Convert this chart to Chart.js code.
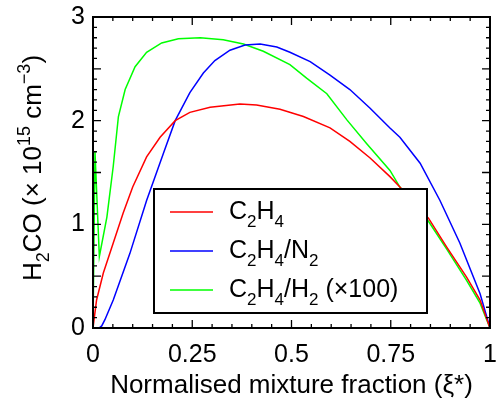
<!DOCTYPE html>
<html>
<head>
<meta charset="utf-8">
<script src="https://cdn.jsdelivr.net/npm/chart.js@4"></script>
<style>
  body { margin: 0; background: #fff; }
  canvas { display: block; }
</style>
</head>
<body>
<canvas id="h2coChart" width="497" height="405"></canvas>
<script>
// values
const redXi = [0, 0.009, 0.026, 0.051, 0.076, 0.10, 0.135, 0.169, 0.207, 0.244, 0.295, 0.37, 0.412, 0.471, 0.53, 0.597, 0.647, 0.698, 0.748, 0.773, 0.81, 0.845, 0.891, 0.941, 0.975, 1];
const redH2co = [0, 0.27, 0.53, 0.82, 1.11, 1.36, 1.65, 1.84, 2.0, 2.08, 2.13, 2.16, 2.15, 2.11, 2.04, 1.93, 1.80, 1.64, 1.46, 1.36, 1.20, 1.06, 0.78, 0.49, 0.27, 0];

const blueXi = [0, 0.015, 0.022, 0.03, 0.051, 0.093, 0.135, 0.177, 0.207, 0.244, 0.278, 0.307, 0.345, 0.383, 0.421, 0.463, 0.496, 0.547, 0.597, 0.647, 0.698, 0.748, 0.773, 0.824, 0.874, 0.924, 0.975, 1];
const blueH2co = [0, 0, 0.02, 0.08, 0.27, 0.72, 1.23, 1.68, 2.0, 2.27, 2.46, 2.58, 2.68, 2.73, 2.74, 2.71, 2.66, 2.57, 2.44, 2.30, 2.12, 1.93, 1.84, 1.59, 1.23, 0.82, 0.33, 0];

const greenXi = [0, 0.005, 0.016, 0.035, 0.051, 0.064, 0.081, 0.106, 0.135, 0.173, 0.215, 0.27, 0.328, 0.379, 0.429, 0.496, 0.538, 0.589, 0.639, 0.689, 0.748, 0.773, 0.845, 0.891, 0.941, 0.975, 1];
const greenH2co = [0, 1.70, 0.69, 1.07, 1.56, 2.04, 2.30, 2.52, 2.66, 2.75, 2.79, 2.80, 2.78, 2.74, 2.67, 2.54, 2.41, 2.26, 2.01, 1.78, 1.52, 1.36, 1.03, 0.76, 0.46, 0.24, 0];

const xTickLabels = ['0', '0.25', '0.5', '0.75', '1'];
const yTickLabels = ['0', '1', '2', '3'];

const seriesNames = ['C2H4', 'C2H4/N2', 'C2H4/H2 (x100)'];
const seriesColors = ['#ff0000', '#0000ff', '#00ff00'];

// rich-text pieces for legend entries: [text, 'n' | 'sub' | 'sup']
const legendParts = [
    [['C', 'n'], ['2', 'sub'], ['H', 'n'], ['4', 'sub']],
    [['C', 'n'], ['2', 'sub'], ['H', 'n'], ['4', 'sub'], ['/N', 'n'], ['2', 'sub']],
    [['C', 'n'], ['2', 'sub'], ['H', 'n'], ['4', 'sub'], ['/H', 'n'], ['2', 'sub'], [' (\u00d7100)', 'n']]
];
const yTitleParts = [['H', 'n'], ['2', 'sub'], ['CO (\u00d7 10', 'n'], ['15', 'sup'], [' cm', 'n'], ['\u22123', 'sup'], [')', 'n']];

const FONT = 'Arial, "Liberation Sans", sans-serif';

function toPoints(xs, ys) {
    return xs.map((x, i) => ({ x: x, y: ys[i] }));
}

function drawRich(ctx, parts, x, y, size, subSize) {
    let cx = x;
    parts.forEach(([txt, kind]) => {
        let dy = 0;
        if (kind === 'n') ctx.font = size + 'px ' + FONT;
        else ctx.font = subSize + 'px ' + FONT;
        if (kind === 'sub') dy = size * 0.32;
        if (kind === 'sup') dy = -size * 0.42;
        ctx.fillText(txt, cx, y + dy);
        cx += ctx.measureText(txt).width;
    });
    return cx - x;
}

function richWidth(ctx, parts, size, subSize) {
    let w = 0;
    parts.forEach(([txt, kind]) => {
        ctx.font = (kind === 'n' ? size : subSize) + 'px ' + FONT;
        w += ctx.measureText(txt).width;
    });
    return w;
}

const decorPlugin = {
    id: 'decor',
    afterDatasetsDraw(chart) {
        const ctx = chart.ctx;
        const xs = chart.scales.x, ys = chart.scales.y;
        const a = chart.chartArea;
        ctx.save();
        ctx.strokeStyle = '#000';
        ctx.fillStyle = '#000';

        // inward ticks on all four sides
        ctx.lineWidth = 1.3;
        ctx.beginPath();
        for (let i = 0; i <= 20; i++) {
            const px = xs.getPixelForValue(i * 0.05);
            const len = (i % 5 === 0) ? 8 : 4;
            ctx.moveTo(px, a.bottom); ctx.lineTo(px, a.bottom - len);
            ctx.moveTo(px, a.top); ctx.lineTo(px, a.top + len);
        }
        for (let i = 0; i <= 30; i++) {
            const py = ys.getPixelForValue(i * 0.1);
            const len = (i % 5 === 0) ? 8 : 4;
            ctx.moveTo(a.left, py); ctx.lineTo(a.left + len, py);
            ctx.moveTo(a.right, py); ctx.lineTo(a.right - len, py);
        }
        ctx.stroke();

        // frame
        ctx.lineWidth = 2;
        ctx.strokeRect(a.left, a.top, a.right - a.left, a.bottom - a.top);

        // legend box
        const box = { x: 154, y: 189, w: 273, h: 124 };
        ctx.fillStyle = '#fff';
        ctx.fillRect(box.x, box.y, box.w, box.h);
        ctx.strokeStyle = '#000';
        ctx.lineWidth = 2;
        ctx.strokeRect(box.x, box.y, box.w, box.h);
        const rowY = [212, 251, 290];
        ctx.textBaseline = 'alphabetic';
        ctx.textAlign = 'left';
        seriesNames.forEach((name, i) => {
            ctx.strokeStyle = seriesColors[i];
            ctx.lineWidth = 1.5;
            ctx.beginPath();
            ctx.moveTo(170, rowY[i]);
            ctx.lineTo(213, rowY[i]);
            ctx.stroke();
            ctx.fillStyle = '#000';
            drawRich(ctx, legendParts[i], 229, rowY[i] + 7, 25, 17);
        });

        // y axis title
        ctx.translate(41, 168);
        ctx.rotate(-Math.PI / 2);
        const w = richWidth(ctx, yTitleParts, 26, 18);
        ctx.fillStyle = '#000';
        drawRich(ctx, yTitleParts, -w / 2, 0, 26, 18);
        ctx.restore();
    }
};

const ctx = document.getElementById('h2coChart').getContext('2d');
const h2coChart = new Chart(ctx, {
    type: 'line',
    data: {
        datasets: [
            { label: seriesNames[0], data: toPoints(redXi, redH2co), borderColor: seriesColors[0] },
            { label: seriesNames[1], data: toPoints(blueXi, blueH2co), borderColor: seriesColors[1] },
            { label: seriesNames[2], data: toPoints(greenXi, greenH2co), borderColor: seriesColors[2] }
        ]
    },
    options: {
        responsive: false,
        animation: false,
        devicePixelRatio: 1,
        layout: { padding: { top: 17, right: 7, left: 0, bottom: 0 } },
        elements: {
            line: { borderWidth: 1.5, tension: 0, fill: false },
            point: { radius: 0 }
        },
        plugins: {
            legend: { display: false },
            tooltip: { enabled: false }
        },
        scales: {
            x: {
                type: 'linear',
                min: 0,
                max: 1,
                grid: { display: false, drawTicks: false },
                border: { display: false },
                afterBuildTicks(scale) {
                    scale.ticks = xTickLabels.map(t => ({ value: parseFloat(t) }));
                },
                ticks: {
                    autoSkip: false,
                    maxRotation: 0,
                    padding: 12,
                    color: '#000',
                    font: { family: FONT, size: 25 },
                    callback: (v) => xTickLabels.find(t => parseFloat(t) === v)
                },
                title: {
                    display: true,
                    text: 'Normalised mixture fraction (\u03be*)',
                    color: '#000',
                    font: { family: FONT, size: 26 },
                    padding: { top: 0, bottom: 4 }
                },
                afterFit(scale) {
                    scale.height = 77;
                    scale.paddingLeft = 0;
                    scale.paddingRight = 0;
                }
            },
            y: {
                type: 'linear',
                min: 0,
                max: 3,
                grid: { display: false, drawTicks: false },
                border: { display: false },
                afterBuildTicks(scale) {
                    scale.ticks = yTickLabels.map(t => ({ value: parseFloat(t) }));
                },
                ticks: {
                    padding: 8,
                    color: '#000',
                    font: { family: FONT, size: 25 },
                    callback: (v) => yTickLabels.find(t => parseFloat(t) === v)
                },
                afterFit(scale) {
                    scale.width = 93;
                    scale.paddingTop = 0;
                    scale.paddingBottom = 0;
                }
            }
        }
    },
    plugins: [decorPlugin]
});
</script>
</body>
</html>
